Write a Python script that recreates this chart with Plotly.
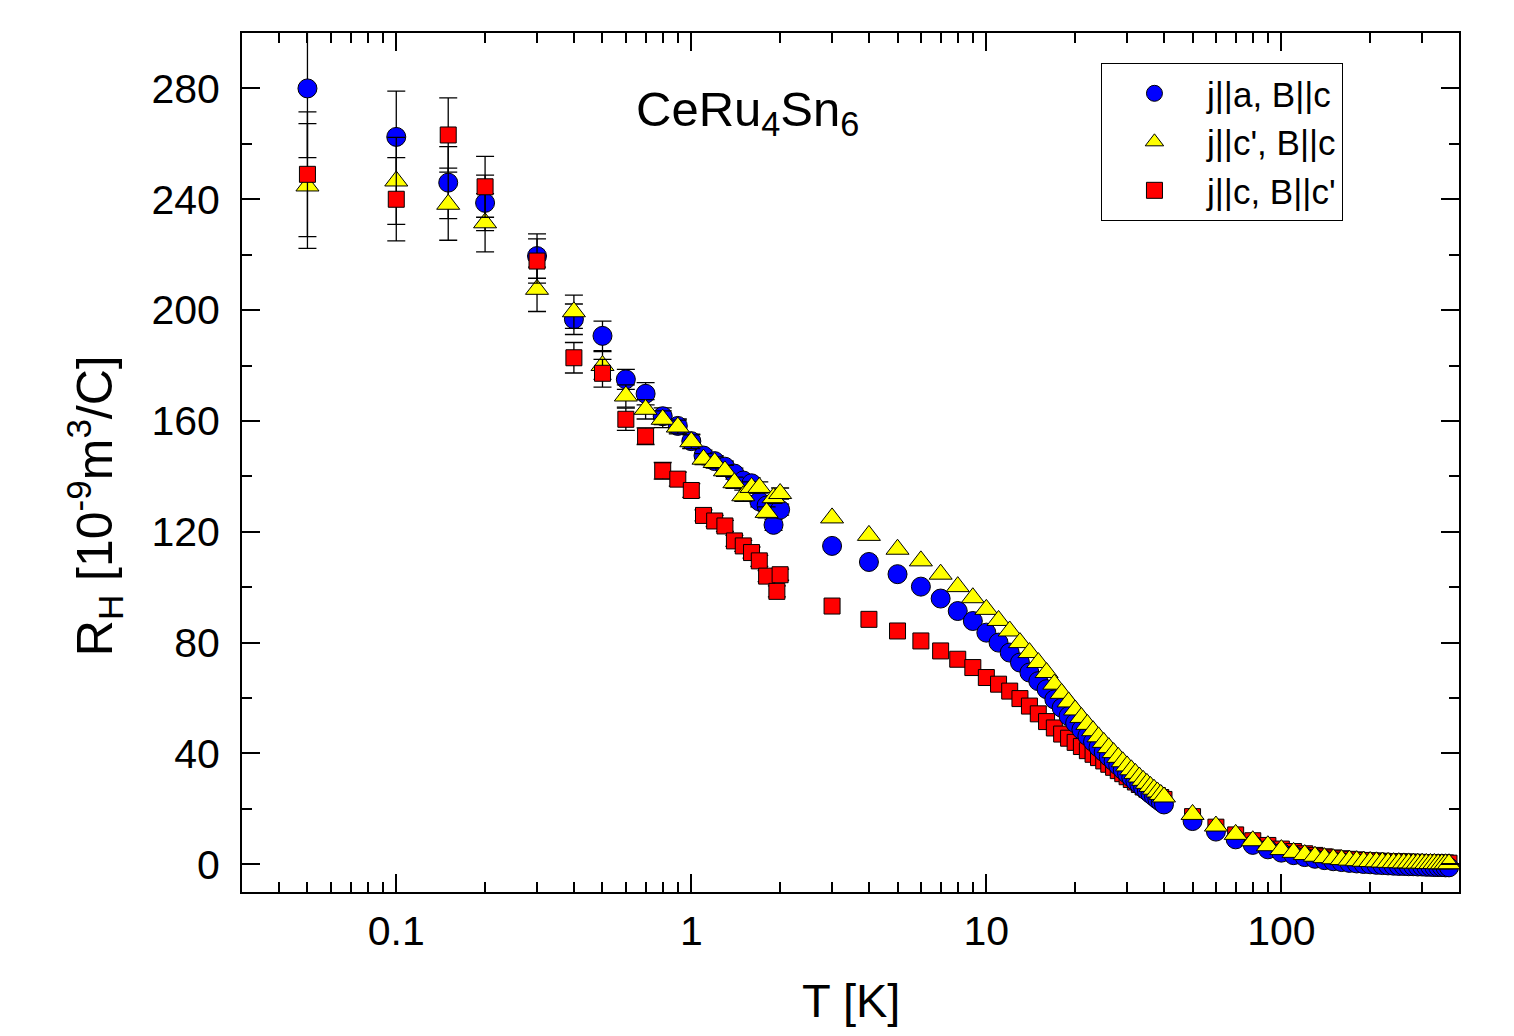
import numpy as np
import plotly.graph_objects as go

# ---------------- data ----------------
# low temperature data (dilution fridge), with error bars
T_lo = [0.05, 0.1, 0.15, 0.2, 0.3, 0.4, 0.5, 0.6, 0.7, 0.8, 0.9, 1.0,
        1.1, 1.2, 1.3, 1.4, 1.5, 1.6, 1.7, 1.8, 1.9, 2.0]
blue_lo = [280, 262.5, 246, 238.7, 219.5, 196.7, 190.7, 175, 169.8, 161.7, 158.2, 152.7,
           147.5, 145.5, 143.5, 141, 138.5, 137.5, 131, 129.5, 122.5, 128]
blue_lo_err = [25, 16.5, 13, 10, 8, 5.5, 5.3, 3.6, 4, 3, 2.5, 2.5,
               2, 2, 2, 2, 2, 2, 2, 2, 2, 2]
yellow_lo = [244.8, 246.6, 238.2, 231.5, 207.5, 199.4, 180, 169, 164.2, 160.6, 157.8, 152.5,
             146.2, 145, 142, 137.7, 133, 136, 136, 127, 132.3, 133.8]
yellow_lo_err = [22.5, 15.7, 13, 10.5, 8, 6, 5, 4, 3.5, 3, 2.5, 2.5,
                 2, 2, 2, 2, 2, 2, 2, 2, 2, 2]
T_red_lo = [0.05, 0.1, 0.15, 0.2, 0.3, 0.4, 0.5, 0.6, 0.7, 0.8, 0.9, 1.0,
            1.1, 1.2, 1.3, 1.4, 1.5, 1.6, 1.7, 1.8, 1.95, 2.0]
red_lo = [249, 240, 263.2, 244.5, 217.7, 182.8, 177.2, 160.6, 154.5, 142, 139, 134.9,
          125.9, 123.9, 122.1, 116.7, 114.9, 112.5, 109.5, 104, 98.5, 104.5]
red_lo_err = [22.5, 15, 13.4, 11, 8, 5.5, 5, 4, 3, 3, 2.5, 2.5,
              2, 2, 2, 2, 2, 2, 2, 2, 2, 2]

# higher temperature data
T_hi = [3, 4, 5, 6, 7, 8, 9, 10, 11, 12, 13, 14, 15, 16, 17, 18, 19, 20,
        21, 22, 23, 24, 25, 26, 27, 28, 29, 30, 31, 32, 33, 34, 35, 36, 37, 38, 39, 40,
        50, 60, 70, 80, 90, 100, 110, 120, 130, 140, 150, 160, 170, 180, 190, 200,
        210, 220, 230, 240, 250, 260, 270, 280, 290, 300, 310, 320, 330, 340, 350, 360, 370]
blue_hi = [114.9, 109.1, 104.7, 100.2, 95.9, 91.4, 87.8, 83.6, 80, 76.4, 72.8, 69.2, 66.1, 63.2,
           59.5, 56.5, 53.5, 51, 48.6, 46.3, 44.2, 42.2, 40.5, 38.8, 37.2, 35.6, 34.1, 32.7,
           31.3, 30, 28.8, 27.6, 26.5, 25.4, 24.4, 23.4, 22.5, 21.6,
           15.6, 11.8, 9.0, 7.0, 5.4, 4.2, 3.3, 2.6, 2.0, 1.5, 1.1, 0.8, 0.5, 0.3, 0.1, 0.0,
           -0.2, -0.3, -0.4, -0.5, -0.6, -0.6, -0.7, -0.7, -0.8, -0.8, -0.9, -0.9, -1.0, -1.0,
           -1.0, -1.1, -1.1]
yellow_hi = [125, 118.7, 113.7, 109.5, 104.7, 100.2, 96.2, 92, 88, 84.2, 80, 76.4, 72.8, 69.2,
             65, 61.7, 58.6, 55.7, 53, 50.5, 48.2, 46, 44, 42.1, 40.3, 38.6, 37, 35.5,
             34.1, 32.8, 31.5, 30.3, 29.2, 28.1, 27.1, 26.1, 25.2, 24.3,
             18.0, 13.8, 10.8, 8.5, 6.7, 5.3, 4.3, 3.5, 2.9, 2.4, 2.0, 1.7, 1.5, 1.3, 1.1, 1.0,
             0.9, 0.8, 0.7, 0.6, 0.6, 0.5, 0.5, 0.4, 0.4, 0.4, 0.3, 0.3, 0.3, 0.2, 0.2, 0.2, 0.2]
red_hi = [93.2, 88.4, 84.2, 80.6, 77, 74, 71, 67.4, 65, 62.5, 59.8, 57.1, 54.3, 51.5,
          49.2, 47, 45.5, 44, 42.5, 41, 39.7, 38.5, 37.3, 36.1, 35, 33.8, 32.7, 31.6,
          30.6, 29.7, 28.8, 27.9, 27.1, 26.3, 25.5, 24.8, 24.1, 23.4,
          17.2, 13.4, 10.6, 8.5, 6.8, 5.5, 4.6, 3.8, 3.2, 2.7, 2.3, 2.0, 1.8, 1.6, 1.4, 1.3,
          1.2, 1.1, 1.0, 0.9, 0.9, 0.8, 0.8, 0.7, 0.7, 0.6, 0.6, 0.6, 0.5, 0.5, 0.5, 0.5, 0.4]

series_names = ["j||a, B||c", "j||c', B||c", "j||c, B||c'"]

# ---------------- styles ----------------
BLUE = "#0000FF"
YELLOW = "#FFFF00"
RED = "#FF0000"
FONT = "Liberation Sans, Arial, sans-serif"

circle = dict(symbol="circle", size=19, color=BLUE, line=dict(color="black", width=1))
tri = dict(symbol="triangle-up", size=20, color=YELLOW, line=dict(color="black", width=1))
sq = dict(symbol="square", size=16, color=RED, line=dict(color="black", width=1))

def err(arr):
    return dict(type="data", array=arr, visible=True, color="black", thickness=1.3, width=9)

fig = go.Figure()
# low-T: blue, yellow, red (red on top)
fig.add_trace(go.Scatter(x=T_lo, y=blue_lo, mode="markers", marker=circle, error_y=err(blue_lo_err),
                         name=series_names[0], legendgroup="b"))
fig.add_trace(go.Scatter(x=T_lo, y=yellow_lo, mode="markers", marker=tri, error_y=err(yellow_lo_err),
                         name=series_names[1], legendgroup="y"))
fig.add_trace(go.Scatter(x=T_red_lo, y=red_lo, mode="markers", marker=sq, error_y=err(red_lo_err),
                         name=series_names[2], legendgroup="r"))
# high-T: red, blue, yellow (yellow on top)
fig.add_trace(go.Scatter(x=T_hi, y=red_hi, mode="markers", marker=sq, showlegend=False, legendgroup="r"))
fig.add_trace(go.Scatter(x=T_hi, y=blue_hi, mode="markers", marker=circle, showlegend=False, legendgroup="b"))
fig.add_trace(go.Scatter(x=T_hi, y=yellow_hi, mode="markers", marker=tri, showlegend=False, legendgroup="y"))

axis_common = dict(showline=True, linecolor="black", linewidth=2, mirror="ticks",
                   ticks="inside", tickcolor="black", tickwidth=2, ticklen=18,
                   showgrid=False, zeroline=False, automargin=False,
                   tickfont=dict(family=FONT, size=41, color="black"))

fig.update_xaxes(type="log", range=[np.log10(0.03), np.log10(400)],
                 tickmode="linear", tick0=0, dtick=1,
                 minor=dict(ticks="inside", ticklen=10, tickwidth=2, tickcolor="black", dtick="D1", showgrid=False),
                 ticklabelstandoff=2,
                 **axis_common)
fig.update_yaxes(range=[-10, 300], tickmode="linear", tick0=0, dtick=40,
                 minor=dict(ticks="inside", ticklen=10, tickwidth=2, tickcolor="black", dtick=20, showgrid=False),
                 ticklabelstandoff=12,
                 **axis_common)

# axis titles as annotations (positioned like the reference)
fig.add_annotation(text="T [K]", xref="paper", yref="paper", x=0.5, y=-0.126,
                   xanchor="center", yanchor="middle", showarrow=False,
                   font=dict(family=FONT, size=47, color="black"))
fig.add_annotation(text="R<sub>H</sub> [10<sup>-9</sup>m<sup>3</sup>/C]", xref="paper", yref="paper",
                   x=-0.121, y=0.45, xanchor="center", yanchor="middle", textangle=-90, showarrow=False,
                   font=dict(family=FONT, size=50, color="black"))

fig.add_annotation(text="CeRu<sub>4</sub>Sn<sub>6</sub>", xref="paper", yref="paper",
                   x=0.322, y=0.945, xanchor="left", yanchor="top", showarrow=False,
                   font=dict(family=FONT, size=49, color="black"))

# the page body adds an 8 px margin, so the figure is sized/offset to fit the window
fig.update_layout(
    width=1498, height=1020,
    margin=dict(l=234, r=47, t=25, b=136, autoexpand=False),
    paper_bgcolor="white", plot_bgcolor="white",
    legend=dict(x=0.7058, y=0.965, xanchor="left", yanchor="top",
                bordercolor="black", borderwidth=1, bgcolor="white",
                font=dict(family=FONT, size=35, color="black"),
                itemwidth=95, tracegroupgap=0),
    showlegend=True,
)

fig.write_html("out.html")
